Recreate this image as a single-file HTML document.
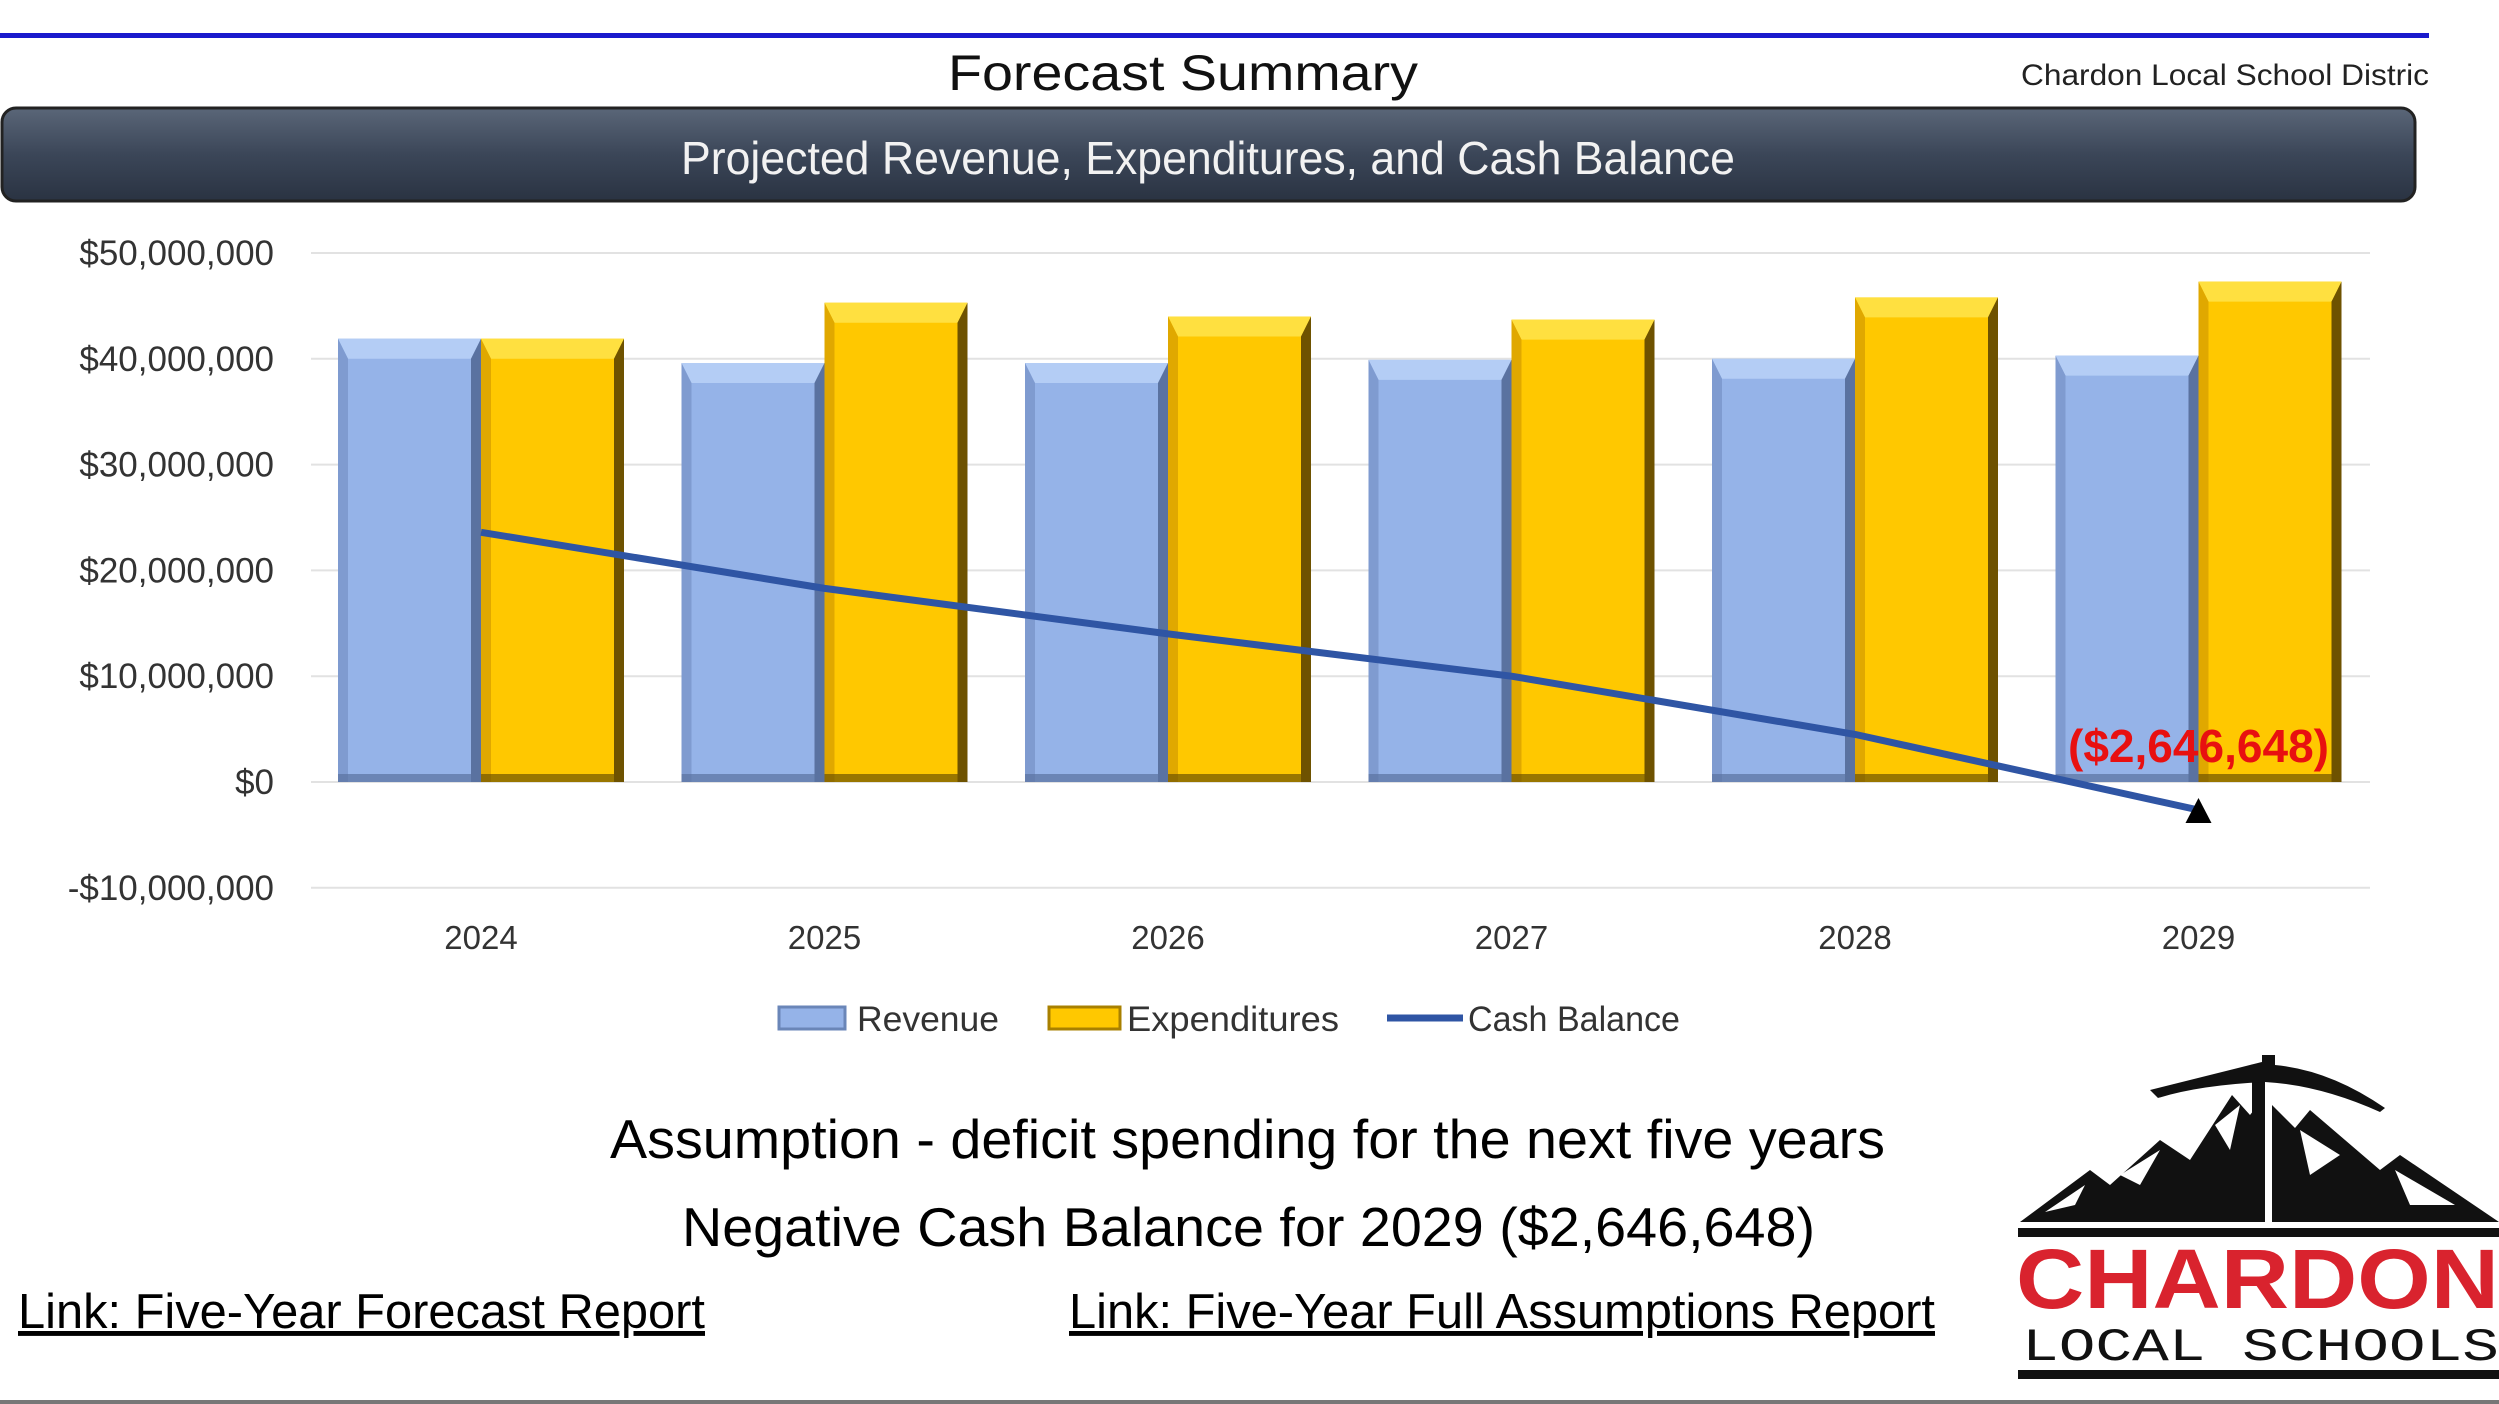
<!DOCTYPE html>
<html><head><meta charset="utf-8"><style>
html,body{margin:0;padding:0;background:#fff;}
svg{display:block;}
</style></head><body>
<svg id="chart" width="2499" height="1404" viewBox="0 0 2499 1404" xmlns="http://www.w3.org/2000/svg" font-family="Liberation Sans, sans-serif">
<defs>
<linearGradient id="banner" x1="0" y1="0" x2="0" y2="1"><stop offset="0" stop-color="#5a6678"/><stop offset="0.5" stop-color="#3b4658"/><stop offset="1" stop-color="#2a3342"/></linearGradient>
</defs>
<rect x="0" y="33" width="2429" height="5" fill="#1a1acc"/>
<text x="948" y="90" font-size="50" fill="#111" textLength="470" lengthAdjust="spacingAndGlyphs">Forecast Summary</text>
<text x="2021" y="85" font-size="30" fill="#222" textLength="408" lengthAdjust="spacingAndGlyphs">Chardon Local School Distric</text>
<rect x="2" y="108" width="2413" height="93" rx="14" fill="url(#banner)" stroke="#222" stroke-width="3"/>
<text x="681" y="174" font-size="46" fill="#f2f2f2" textLength="1054" lengthAdjust="spacingAndGlyphs">Projected Revenue, Expenditures, and Cash Balance</text>
<g id="plot"></g>
<g>
<g><rect x="779" y="1007" width="66" height="22" fill="#95b3e8" stroke="#6a86b8" stroke-width="3"/><text x="857" y="1031" font-size="35" fill="#333" textLength="142" lengthAdjust="spacingAndGlyphs">Revenue</text></g>
<g><rect x="1049" y="1007" width="71" height="22" fill="#ffc800" stroke="#a88000" stroke-width="3"/><text x="1127" y="1031" font-size="35" fill="#333" textLength="212" lengthAdjust="spacingAndGlyphs">Expenditures</text></g>
<g><line x1="1387" y1="1018" x2="1463" y2="1018" stroke="#2f55a4" stroke-width="7"/><text x="1468" y="1031" font-size="35" fill="#333" textLength="212" lengthAdjust="spacingAndGlyphs">Cash Balance</text></g>
</g>
<text x="610" y="1158" font-size="55" fill="#000" textLength="1275" lengthAdjust="spacingAndGlyphs">Assumption - deficit spending for the next five years</text>
<text x="682" y="1246" font-size="55" fill="#000" textLength="1133" lengthAdjust="spacingAndGlyphs">Negative Cash Balance for 2029 ($2,646,648)</text>
<text x="18" y="1328" font-size="49" fill="#000" text-decoration="underline" textLength="687" lengthAdjust="spacingAndGlyphs">Link: Five-Year Forecast Report</text>
<text x="1069" y="1328" font-size="49" fill="#000" text-decoration="underline" textLength="866" lengthAdjust="spacingAndGlyphs">Link: Five-Year Full Assumptions Report</text>
<g>
<path d="M2020 1222 L2090 1170 L2110 1185 L2160 1140 L2190 1160 L2232 1095 L2250 1115 L2262 1100 L2262 1222 Z" fill="#111"/>
<path d="M2272 1222 L2272 1105 L2295 1128 L2310 1110 L2380 1170 L2400 1155 L2499 1222 Z" fill="#111"/>
<path d="M2045 1212 L2085 1185 L2075 1205 Z M2120 1175 L2160 1150 L2140 1185 Z M2215 1125 L2240 1105 L2230 1150 Z M2300 1130 L2340 1155 L2310 1175 Z M2395 1170 L2455 1205 L2410 1205 Z" fill="#fff"/>
<rect x="2252" y="1070" width="13" height="152" fill="#111"/>
<path d="M2150 1090 Q2250 1065 2262 1062 L2262 1055 L2275 1055 L2275 1065 Q2330 1070 2385 1108 L2380 1112 Q2320 1085 2265 1082 Q2200 1085 2158 1098 Z" fill="#111"/>
<rect x="2018" y="1228" width="481" height="9" fill="#111"/>
<text x="2016" y="1308" font-size="84" font-weight="bold" fill="#d9232e" textLength="483" lengthAdjust="spacingAndGlyphs">CHARDON</text>
<text x="2022" y="1360" font-size="46" font-family="Liberation Mono, DejaVu Sans Mono, monospace" fill="#111" textLength="477" lengthAdjust="spacingAndGlyphs">LOCAL SCHOOLS</text>
<rect x="2018" y="1370" width="481" height="9" fill="#111"/>
</g>
<rect x="0" y="1400" width="2499" height="4" fill="#777"/>
<script>
const categories = ["2024","2025","2026","2027","2028","2029"];
const revenue = [41.9, 39.6, 39.6, 39.9, 40.0, 40.3];
const expenditures = [41.9, 45.3, 44.0, 43.7, 45.8, 47.3];
const cashBalance = [23.6, 18.3, 14.0, 10.0, 4.5, -2.646648];
const yTicks = [50, 40, 30, 20, 10, 0, -10];
const yTickLabels = ["$50,000,000","$40,000,000","$30,000,000","$20,000,000","$10,000,000","$0","-$10,000,000"];
const lastLabel = "($2,646,648)";

const NS = "http://www.w3.org/2000/svg";
const plot = document.getElementById("plot");
const y = v => 782 - v * 10.58;
const xc = i => 481 + i * 343.5;
const BW = 143;
function mk(tag, attrs, parent) {
  const e = document.createElementNS(NS, tag);
  for (const k in attrs) e.setAttribute(k, attrs[k]);
  (parent || plot).appendChild(e);
  return e;
}
yTicks.forEach((t, i) => {
  const g = mk("line", {x1: 311, x2: 2370, y1: y(t), y2: y(t), stroke: "#e2e2e2", "stroke-width": 2});
  
  
  const l = mk("text", {x: 274, y: y(t) + 12, "text-anchor": "end", "font-size": 35, fill: "#333"});
  l.textContent = yTickLabels[i];
  
  
});
function bar(x0, v, base, light, dark, top, name) {
  const g = mk("g", {});
  
  
  const y0 = y(v), y1 = y(0), b = 10, tb = 20;
  mk("rect", {x: x0, y: y0, width: BW, height: y1 - y0, fill: base}, g);
  mk("polygon", {points: `${x0},${y0} ${x0+BW},${y0} ${x0+BW-b},${y0+tb} ${x0+b},${y0+tb}`, fill: top}, g);
  mk("polygon", {points: `${x0},${y0} ${x0+b},${y0+tb} ${x0+b},${y1} ${x0},${y1}`, fill: light}, g);
  mk("polygon", {points: `${x0+BW},${y0} ${x0+BW-b},${y0+tb} ${x0+BW-b},${y1} ${x0+BW},${y1}`, fill: dark}, g);
  mk("rect", {x: x0, y: y1 - 8, width: BW, height: 8, fill: dark, opacity: 0.7}, g);
}
categories.forEach((c, i) => {
  bar(xc(i) - BW, revenue[i], "#95b3e8", "#7f9bd0", "#5a72a0", "#b4cdf5", "bar-revenue-" + c);
  bar(xc(i), expenditures[i], "#ffc800", "#e0a800", "#6e5200", "#ffe040", "bar-expenditures-" + c);
  const t = mk("text", {x: xc(i), y: 949, "text-anchor": "middle", "font-size": 33, fill: "#333"});
  t.textContent = c;
  
  
});
const pts = cashBalance.map((v, i) => xc(i) + "," + y(v)).join(" ");
const line = mk("polyline", {points: pts, fill: "none", stroke: "#2f55a4", "stroke-width": 7, "stroke-linejoin": "round"});


const li = cashBalance.length - 1, lx = xc(li), ly = y(cashBalance[li]);
const m = mk("polygon", {points: `${lx},${ly-12} ${lx+13},${ly+13} ${lx-13},${ly+13}`, fill: "#000"});


const dl = mk("text", {x: lx, y: ly - 48, "text-anchor": "middle", "font-size": 46, "font-weight": "bold", fill: "#e81010", textLength: 261, lengthAdjust: "spacingAndGlyphs"});
dl.textContent = lastLabel;


</script>
</svg>
</body></html>
